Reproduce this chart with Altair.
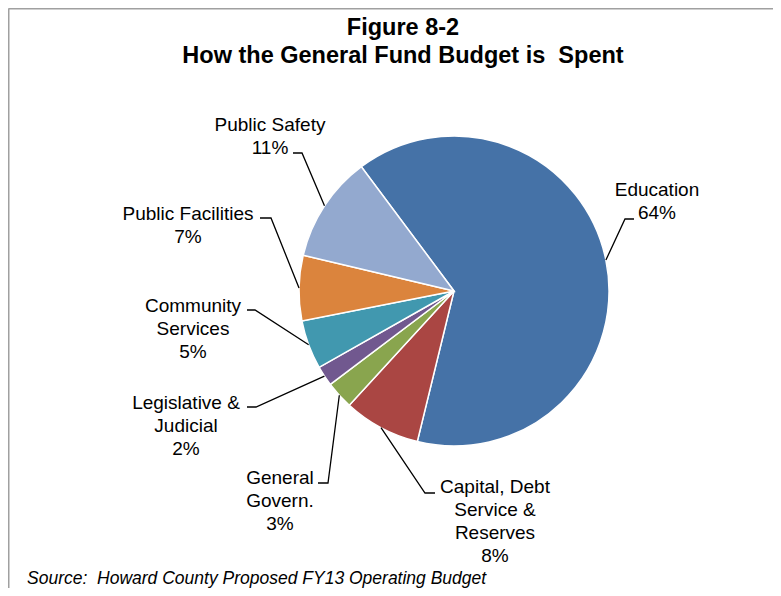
import math
import altair as alt
import pandas as pd

# ---- data ----
categories = ["Education", "Capital, Debt Service & Reserves", "General Govern.",
              "Legislative & Judicial", "Community Services", "Public Facilities",
              "Public Safety"]
shares = [64.0, 8.0, 2.9, 2.1, 5.1, 6.8, 11.1]
pct_labels = ["64%", "8%", "3%", "2%", "5%", "7%", "11%"]
label_lines = [["Education"], ["Capital, Debt", "Service &", "Reserves"],
               ["General", "Govern."], ["Legislative &", "Judicial"],
               ["Community", "Services"], ["Public Facilities"], ["Public Safety"]]
colors = ["#4572A7", "#AA4643", "#89A54E", "#71588F", "#4198AF", "#DB843D", "#93A9CF"]
title_lines = ["Figure 8-2", "How the General Fund Budget is\u00a0 Spent"]
source_text = "Source:\u00a0 Howard County Proposed FY13 Operating Budget"

# ---- layout (page pixel coordinates) ----
W, H = 765, 580
CX, CY, R = 454, 291, 155
START_DEG = -36.7
LINE_H = 23
label_anchor = [(657, 190), (495, 487), (280, 478), (186, 403), (193, 306), (188, 214), (270, 125)]
leader_elbow = [(625, 219), (425, 493), (328, 483), (256, 407), (255, 310), (271, 218), (302, 153)]
leader_end = [(634, 219), (435, 493), (318, 483), (247, 407), (247, 310), (260, 218), (293, 153)]

xs = alt.Scale(domain=[8, 8 + W], range=[0, W], nice=False, zero=False)
ys = alt.Scale(domain=[8, 8 + H], range=[0, H], nice=False, zero=False)

pie_df = pd.DataFrame({
    "cat": categories, "share": shares, "idx": list(range(len(categories))),
    "cx": [CX] * len(categories), "cy": [CY] * len(categories),
})

start = math.radians(START_DEG)
pie = alt.Chart(pie_df).mark_arc(outerRadius=R, stroke="white", strokeWidth=1.5).encode(
    x=alt.X("cx:Q", scale=xs, axis=None),
    y=alt.Y("cy:Q", scale=ys, axis=None),
    theta=alt.Theta("share:Q", stack=True, scale=alt.Scale(range=[start, start + 2 * math.pi])),
    order=alt.Order("idx:Q"),
    color=alt.Color("cat:N", scale=alt.Scale(domain=categories, range=colors), legend=None),
)

# leader lines: start on the pie edge at slice mid-angle
total = sum(shares)
rows = []
cum = 0.0
for i, s in enumerate(shares):
    mid = START_DEG + (cum + s / 2) / total * 360
    cum += s
    a = math.radians(mid)
    ex, ey = CX + R * math.sin(a), CY - R * math.cos(a)
    pts = [(ex, ey), leader_elbow[i], leader_end[i]]
    for k, (px, py) in enumerate(pts):
        rows.append({"cat": categories[i], "step": k, "px": px, "py": py})
lead_df = pd.DataFrame(rows)
leaders = alt.Chart(lead_df).mark_line(color="black", strokeWidth=1.3).encode(
    x=alt.X("px:Q", scale=xs, axis=None),
    y=alt.Y("py:Q", scale=ys, axis=None),
    detail="cat:N",
    order="step:Q",
)

# labels
trows = []
for i in range(len(categories)):
    lines = label_lines[i] + [pct_labels[i]]
    ax, ay = label_anchor[i]
    for k, t in enumerate(lines):
        trows.append({"t": t, "px": ax, "py": ay + k * LINE_H})
txt_df = pd.DataFrame(trows)
labels = alt.Chart(txt_df).mark_text(font="Liberation Sans", fontSize=19, color="black",
                                     align="center", baseline="middle").encode(
    x=alt.X("px:Q", scale=xs, axis=None),
    y=alt.Y("py:Q", scale=ys, axis=None),
    text="t:N",
)

title_df = pd.DataFrame({"t": title_lines, "px": [403, 403], "py": [35, 63]})
title = alt.Chart(title_df).mark_text(font="Liberation Sans", fontSize=23.5, fontWeight="bold",
                                      color="black", align="center", baseline="alphabetic").encode(
    x=alt.X("px:Q", scale=xs, axis=None),
    y=alt.Y("py:Q", scale=ys, axis=None),
    text="t:N",
)

src_df = pd.DataFrame({"t": [source_text], "px": [27], "py": [584]})
source = alt.Chart(src_df).mark_text(font="Liberation Sans", fontSize=17.5, fontStyle="italic",
                                     color="black", align="left", baseline="alphabetic").encode(
    x=alt.X("px:Q", scale=xs, axis=None),
    y=alt.Y("py:Q", scale=ys, axis=None),
    text="t:N",
)

border_df = pd.DataFrame({"x1": [8.5, 8.5], "x2": [8 + W, 8.5], "y1": [8.5, 8.5], "y2": [8.5, 8 + H]})
border = alt.Chart(border_df).mark_rule(color="#a0a0a0", strokeWidth=2).encode(
    x=alt.X("x1:Q", scale=xs, axis=None), x2="x2:Q",
    y=alt.Y("y1:Q", scale=ys, axis=None), y2="y2:Q",
)

chart = alt.layer(border, pie, leaders, labels, title, source).properties(
    width=W, height=H, padding=0, autosize="none"
).configure_view(stroke=None)

chart.save("out.html", embed_options={"renderer": "svg", "actions": False})
